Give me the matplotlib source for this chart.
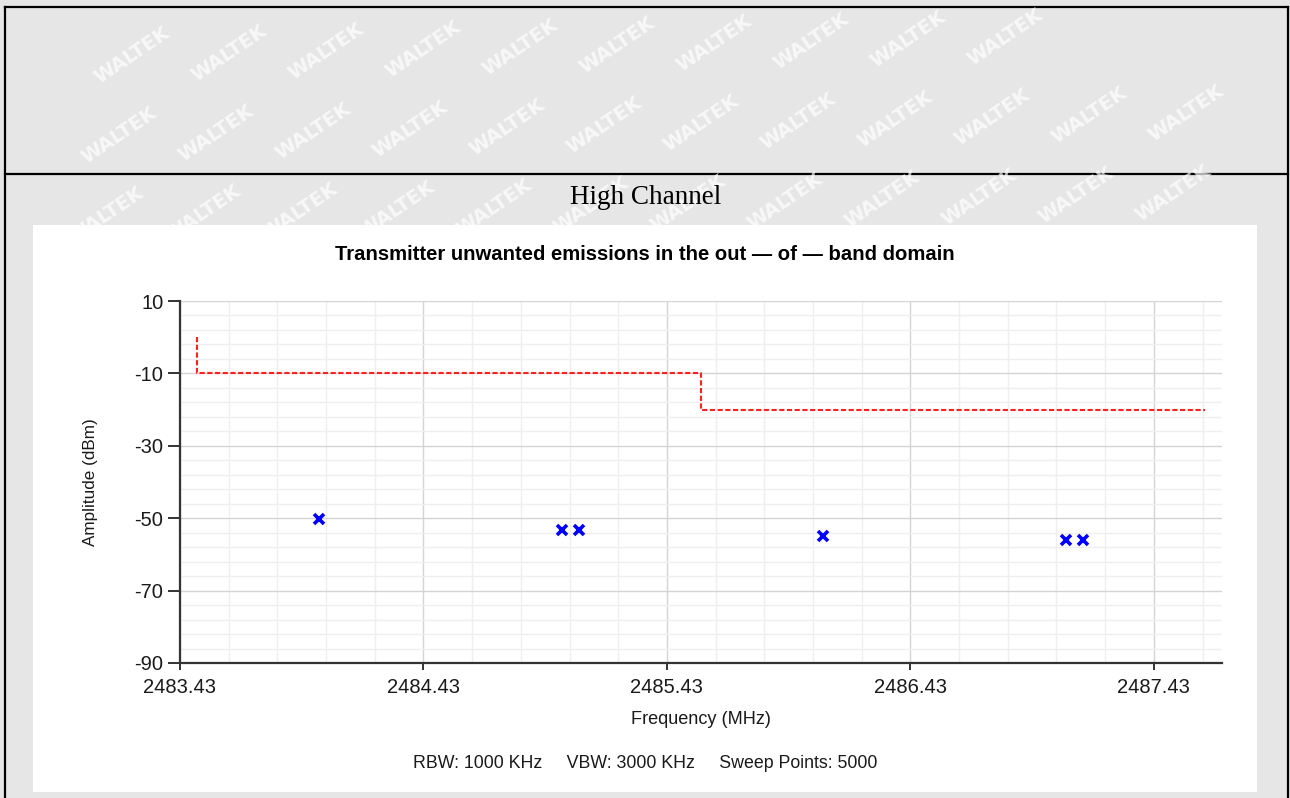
import numpy as np
import matplotlib
matplotlib.use("Agg")
import matplotlib.pyplot as plt
from matplotlib.patches import Rectangle
from matplotlib.ticker import FixedLocator

# ==== Dados ====
freq_points = [2484.00, 2485.00, 2485.07, 2486.07, 2487.07, 2487.14]   # MHz
level_points = [-50.3, -53.3, -53.3, -54.8, -56.1, -56.1]               # dBm

limit_freq = [2483.50, 2483.50, 2485.57, 2485.57, 2487.64]
limit_level = [0, -10, -10, -20, -20]

x_ticks = [2483.43, 2484.43, 2485.43, 2486.43, 2487.43]
x_labels = ["2483.43", "2484.43", "2485.43", "2486.43", "2487.43"]
y_ticks = [10, -10, -30, -50, -70, -90]
y_labels = ["10", "-10", "-30", "-50", "-70", "-90"]

W, H = 1290, 798
fig = plt.figure(figsize=(W / 100, H / 100), dpi=100)
fig.patch.set_facecolor("#e6e6e6")

# ==== fundo (tabela + marca d'água) em coordenadas de pixel ====
bg = fig.add_axes([0, 0, 1, 1], zorder=0)
bg.set_xlim(0, W)
bg.set_ylim(H, 0)
bg.axis("off")

# marca d'água, só onde cabe inteira
for j in range(-1, 11):
    for i in range(-1, 15):
        x = 97 * i - 13 * j + 35
        y = 57 + 80 * j - 2 * i
        if 45 < x < W - 45 and 35 < y < H - 35:
            inside_chart = 33 < x < 1257 and 225 < y < 792
            if not inside_chart:
                bg.text(x, y, "WALTEK", rotation=34, ha="center", va="center",
                        fontsize=14, fontweight="bold", color="white", alpha=0.7,
                        family="DejaVu Sans")

# linhas da tabela
bg.plot([5, 1288], [7, 7], color="black", lw=1.6)
bg.plot([5, 1288], [174, 174], color="black", lw=1.6)
bg.plot([5, 5], [7, H], color="black", lw=1.6)
bg.plot([1288, 1288], [7, H], color="black", lw=1.6)

bg.text(646, 197, "High Channel", ha="center", va="center",
        fontsize=19.5, family="Liberation Serif", color="black")

# área branca do gráfico
bg.add_patch(Rectangle((33, 225), 1257 - 33, 792 - 225, facecolor="white",
                       edgecolor="none", zorder=3))

# ==== gráfico ====
ax = fig.add_axes([180 / W, 1 - 663 / H, (1222 - 180) / W, (663 - 301) / H], zorder=1)
ax.set_facecolor("white")

ax.plot(limit_freq, limit_level, color="#ff2020", lw=1.5, ls=(0, (2.5, 1.2)), zorder=3)
ax.plot(freq_points, level_points, ls="none", marker="x", color="#0000ff",
        ms=7, mew=2.6, zorder=4)

ax.set_xlim(2483.43, 2487.71)
ax.set_ylim(-90, 10)
ax.set_xticks(x_ticks)
ax.set_xticklabels(x_labels)
ax.set_yticks(y_ticks)
ax.set_yticklabels(y_labels)
ax.xaxis.set_minor_locator(FixedLocator(np.arange(2483.43, 2487.72, 0.2)))
ax.yaxis.set_minor_locator(FixedLocator(np.arange(-90, 10.1, 4)))

ax.grid(which="major", color="#d4d4d4", lw=1.0)
ax.grid(which="minor", color="#efefef", lw=1.0)
ax.set_axisbelow(True)

for s in ["top", "right"]:
    ax.spines[s].set_visible(False)
for s in ["left", "bottom"]:
    ax.spines[s].set_color("#333333")
    ax.spines[s].set_linewidth(1.6)

ax.tick_params(axis="y", which="major", length=9, width=1.4, color="#333333",
               labelsize=14.5, pad=3, labelcolor="#1a1a1a")
ax.tick_params(axis="x", which="major", length=5, width=1.4, color="#333333",
               labelsize=14.5, pad=6, labelcolor="#1a1a1a")
ax.tick_params(which="minor", length=0)
for lab in ax.get_xticklabels() + ax.get_yticklabels():
    lab.set_family("Liberation Sans")

fig.text(645 / W, 1 - 255 / H,
         "Transmitter unwanted emissions in the out \u2014 of \u2014 band domain",
         ha="center", va="center", fontsize=14.6, fontweight="bold",
         family=["Liberation Sans Narrow", "Liberation Sans"], color="black")
fig.text(90 / W, 1 - 482 / H, "Amplitude (dBm)", rotation=90, ha="center",
         va="center", fontsize=12.3, family="Liberation Sans", color="#1a1a1a")
fig.text(701 / W, 1 - 719 / H, "Frequency (MHz)", ha="center", va="center",
         fontsize=13.1, family="Liberation Sans", color="#1a1a1a")
fig.text(645 / W, 1 - 763 / H,
         "RBW: 1000 KHz     VBW: 3000 KHz     Sweep Points: 5000",
         ha="center", va="center", fontsize=12.8, family="Liberation Sans",
         color="#1a1a1a")

fig.savefig("out.png", dpi=100, facecolor=fig.get_facecolor())
